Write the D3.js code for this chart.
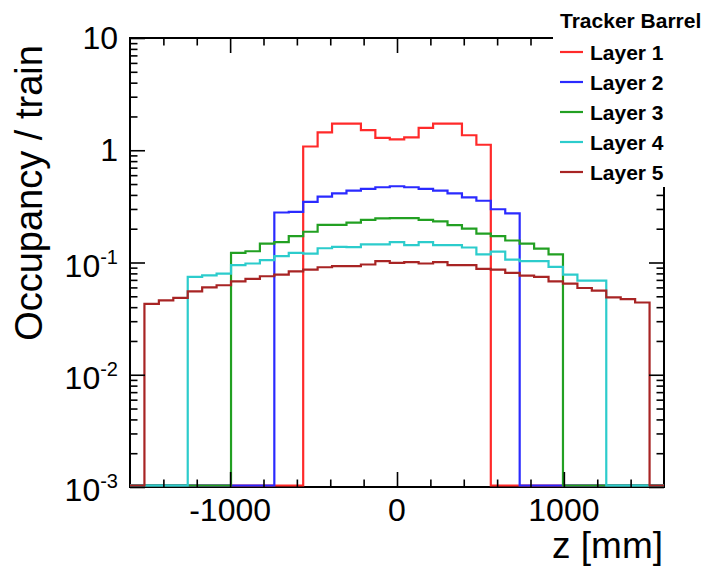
<!DOCTYPE html>
<html>
<head>
<meta charset="utf-8">
<script src="https://cdn.jsdelivr.net/npm/d3@7/dist/d3.min.js"></script>
<style>
  body { margin: 0; background: #fff; }
  text { font-family: "Liberation Sans", Arial, Helvetica, sans-serif; }
</style>
</head>
<body>
<svg width="711" height="574"></svg>
<script>
// binning of the z axis
var zRange = [-1600, 1600];
var nBins = 37;

var layerNames = ["Layer 1", "Layer 2", "Layer 3", "Layer 4", "Layer 5"];
var layerColors = ["#ff2a2a", "#2a2aff", "#22a022", "#2ccccc", "#a82424"];

// occupancy per bin (0 = empty bin)
var layer1 = [0,0,0,0,0,0,0,0,0,0,0,0,
  1.08,1.44,1.73,1.73,1.51,1.29,1.25,1.30,1.58,1.73,1.73,1.36,1.12,
  0,0,0,0,0,0,0,0,0,0,0,0];
var layer2 = [0,0,0,0,0,0,0,0,0,0,
  0.279,0.282,0.347,0.386,0.413,0.436,0.452,0.468,0.478,0.468,0.452,0.436,0.413,0.380,0.355,0.298,0.274,
  0,0,0,0,0,0,0,0,0,0];
var layer3 = [0,0,0,0,0,0,0,
  0.122,0.126,0.147,0.152,0.172,0.188,0.216,0.216,0.227,0.240,0.247,0.248,0.248,0.240,0.232,0.215,0.200,0.181,0.172,0.157,0.147,0.133,0.118,
  0,0,0,0,0,0,0];
var layer4 = [0,0,0,0,
  0.0744,0.0769,0.0796,0.0946,0.098,0.105,0.114,0.122,0.120,0.134,0.138,0.137,0.145,0.145,0.152,0.143,0.152,0.143,0.143,0.136,0.118,0.125,0.106,0.103,0.103,0.0915,0.078,0.069,0.069,
  0,0,0,0];
var layer5 = [0,
  0.0428,0.0459,0.0485,0.0553,0.060,0.0627,0.068,0.0715,0.0754,0.078,0.0835,0.0865,0.0907,0.0927,0.0927,0.096,0.103,0.0993,0.1006,0.098,0.1006,0.0946,0.0946,0.0877,0.0865,0.0807,0.0764,0.0744,0.068,0.0648,0.0593,0.0561,0.0489,0.0472,0.044,
  0];
var layers = [layer1, layer2, layer3, layer4, layer5];

var xMajor = [-1000, 0, 1000];
var xMinor = [-1400, -1200, -800, -600, -400, -200, 200, 400, 600, 800, 1200, 1400];
var yMajor = [1e-3, 1e-2, 1e-1, 1, 10];
var yLabels = [["10", "-3"], ["10", "-2"], ["10", "-1"], ["1", ""], ["10", ""]];

var svg = d3.select("svg");
var frame = { left: 130, right: 664, top: 38, bottom: 487 };

var x = d3.scaleLinear().domain(zRange).range([frame.left, frame.right]);
var y = d3.scaleLog().domain([1e-3, 10]).range([frame.bottom, frame.top]);

var yMinor = [];
yMajor.slice(0, 4).forEach(function(d) {
  for (var k = 2; k <= 9; k++) yMinor.push(d * k);
});

var edges = d3.range(nBins + 1).map(function(i) {
  return zRange[0] + i * (zRange[1] - zRange[0]) / nBins;
});

// frame
svg.append("rect")
  .attr("x", frame.left).attr("y", frame.top)
  .attr("width", frame.right - frame.left).attr("height", frame.bottom - frame.top)
  .attr("fill", "none").attr("stroke", "#000").attr("stroke-width", 2);

// histograms, drawn Layer 1 first
var line = d3.line()
  .x(function(d) { return x(d[0]); })
  .y(function(d) { return Math.min(y(Math.max(d[1], 1e-3)), frame.bottom - 1.5); })
  .curve(d3.curveStepAfter);

layers.forEach(function(vals, li) {
  var pts = vals.map(function(v, i) { return [edges[i], v]; });
  pts.push([edges[nBins], vals[nBins - 1]]);
  svg.append("path")
    .attr("d", line(pts))
    .attr("fill", "none")
    .attr("stroke", layerColors[li])
    .attr("stroke-width", 2.2);
});

// ticks on all four sides, pointing inward
function ticks(axis, tx, ty) {
  var g = svg.append("g").attr("transform", "translate(" + tx + "," + ty + ")").call(axis);
  g.select(".domain").remove();
  g.selectAll("line").attr("stroke", "#000").attr("stroke-width", 1.6);
}
ticks(d3.axisBottom(x).tickValues(xMajor).tickSize(-15).tickFormat(""), 0, frame.bottom);
ticks(d3.axisBottom(x).tickValues(xMinor).tickSize(-7.5).tickFormat(""), 0, frame.bottom);
ticks(d3.axisTop(x).tickValues(xMajor).tickSize(-15).tickFormat(""), 0, frame.top);
ticks(d3.axisTop(x).tickValues(xMinor).tickSize(-7.5).tickFormat(""), 0, frame.top);
ticks(d3.axisLeft(y).tickValues(yMajor).tickSize(-15).tickFormat(""), frame.left, 0);
ticks(d3.axisLeft(y).tickValues(yMinor).tickSize(-7.5).tickFormat(""), frame.left, 0);
ticks(d3.axisRight(y).tickValues(yMajor).tickSize(-15).tickFormat(""), frame.right, 0);
ticks(d3.axisRight(y).tickValues(yMinor).tickSize(-7.5).tickFormat(""), frame.right, 0);

// x tick labels
svg.append("g").selectAll("text")
  .data(xMajor)
  .enter().append("text")
    .attr("x", function(d) { return x(d); })
    .attr("y", 521)
    .attr("text-anchor", "middle")
    .attr("font-size", 32)
    .text(function(d) { return d; });

// y tick labels with exponents
var yl = svg.append("g").selectAll("text")
  .data(yMajor)
  .enter().append("text")
    .attr("x", 118)
    .attr("y", function(d, i) { return y(d) + (yLabels[i][1] ? 14 : 11); })
    .attr("text-anchor", "end")
    .attr("font-size", 32);
yl.append("tspan").text(function(d, i) { return yLabels[i][0]; });
yl.append("tspan")
  .attr("font-size", 20)
  .attr("dy", -13)
  .text(function(d, i) { return yLabels[i][1]; });

// axis titles
svg.append("text")
  .attr("transform", "translate(42," + ((frame.top + 348) / 2) + ") rotate(-90)")
  .attr("text-anchor", "middle")
  .attr("font-size", 38)
  .text("Occupancy / train");

svg.append("text")
  .attr("x", 663).attr("y", 558)
  .attr("text-anchor", "end")
  .attr("font-size", 37)
  .text("z [mm]");

// legend box covers the top-right corner of the frame
var leg = svg.append("g");
leg.append("rect")
  .attr("x", 553).attr("y", 0)
  .attr("width", 158).attr("height", 187)
  .attr("fill", "#fff");
leg.append("text")
  .attr("x", 560).attr("y", 28)
  .attr("font-size", 21).attr("font-weight", "bold")
  .text("Tracker Barrel");

var entry = leg.selectAll(".entry")
  .data(layerNames)
  .enter().append("g")
    .attr("class", "entry")
    .attr("transform", function(d, i) { return "translate(0," + (52 + i * 30) + ")"; });
entry.append("line")
  .attr("x1", 560).attr("x2", 583)
  .attr("stroke", function(d, i) { return layerColors[i]; })
  .attr("stroke-width", 2.2);
entry.append("text")
  .attr("x", 590).attr("y", 7.5)
  .attr("font-size", 21).attr("font-weight", "bold")
  .text(function(d) { return d; });
</script>
</body>
</html>
